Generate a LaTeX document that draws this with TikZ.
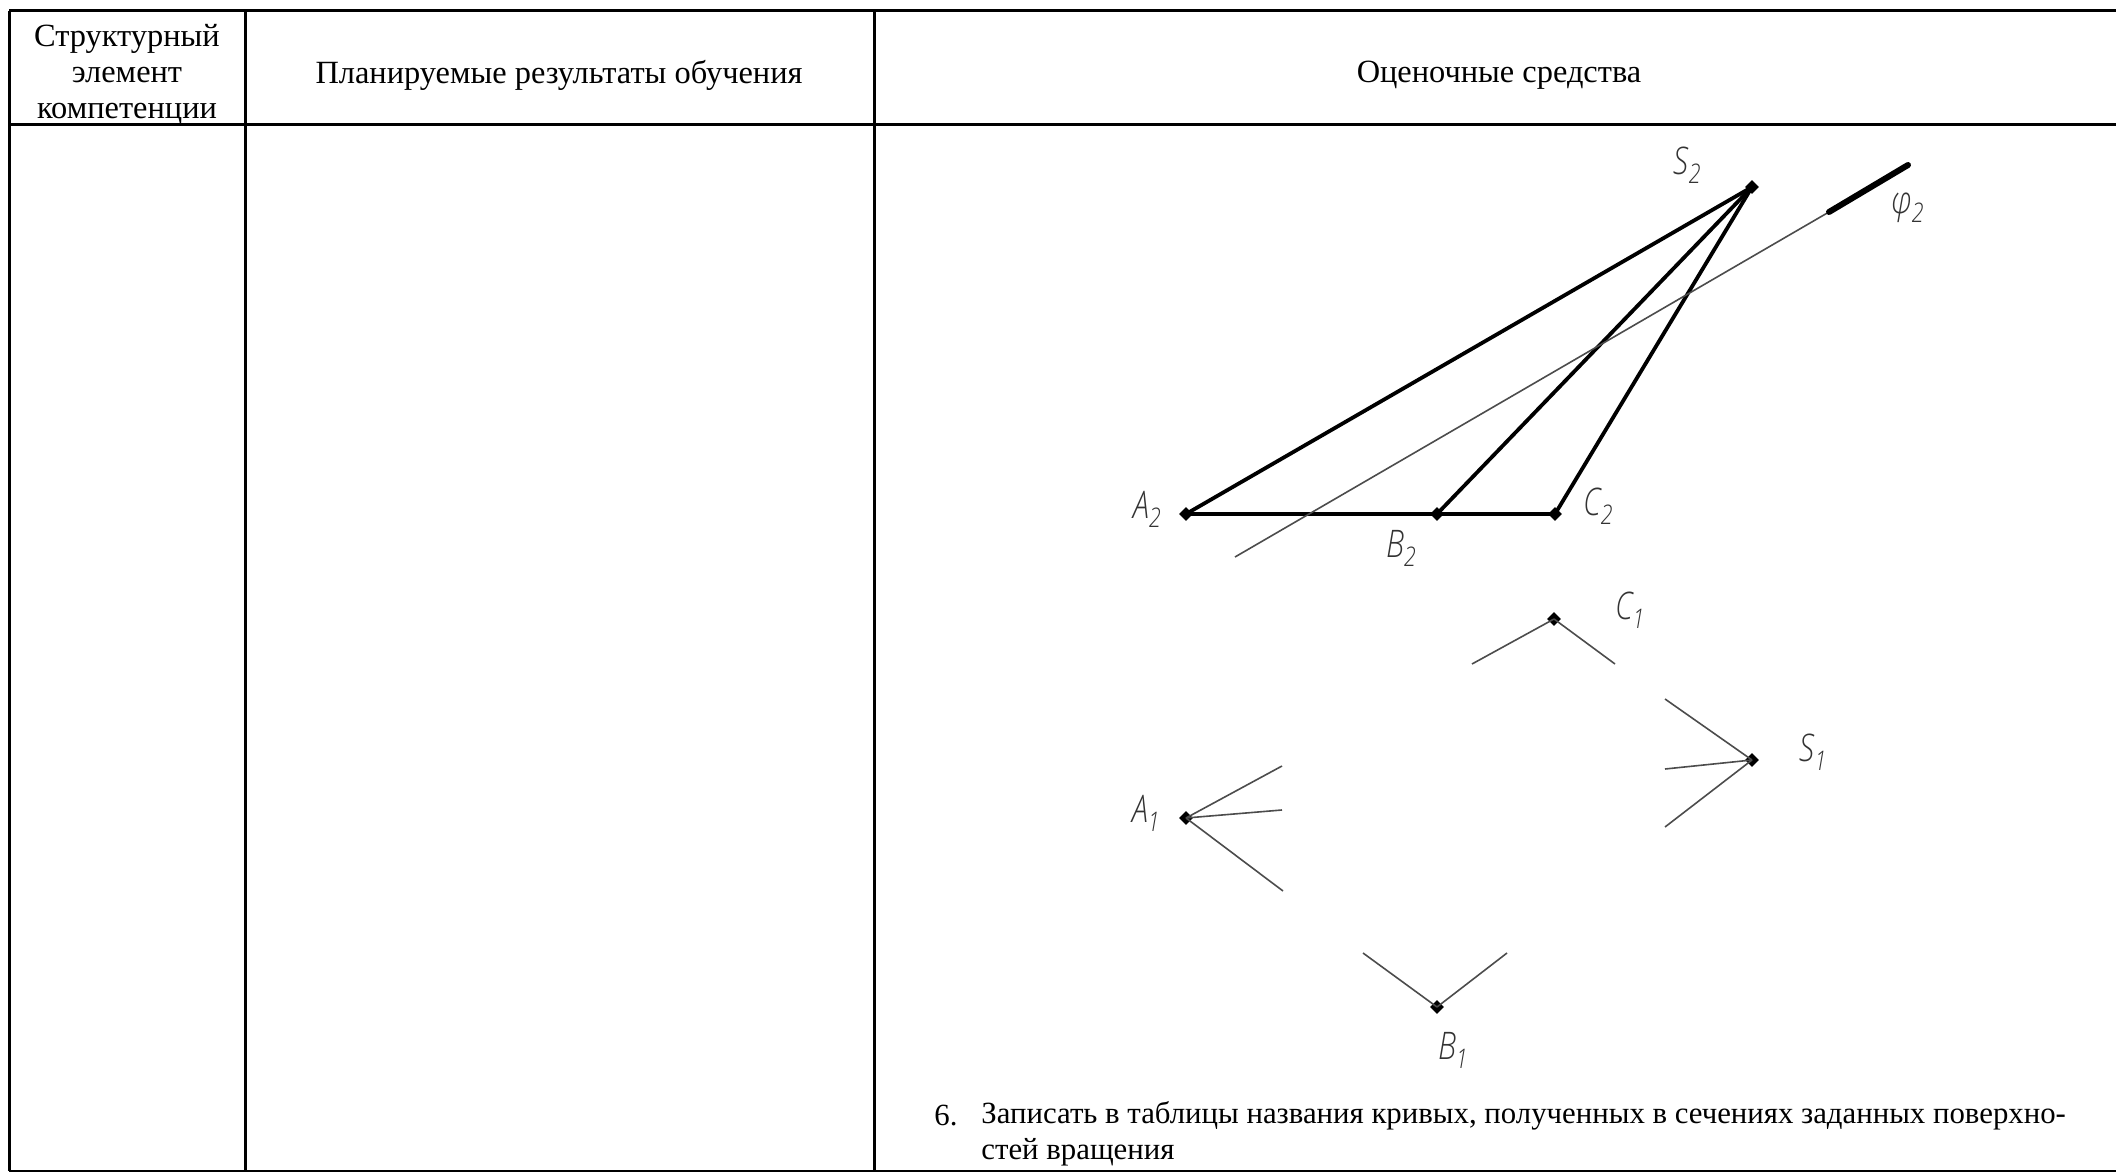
\documentclass[tikz,border=0pt]{standalone}
\usepackage{fontspec}
\setmainfont{Liberation Serif}
\newfontfamily\sketchfont{Open Sans Light}[ItalicFont={Open Sans Light Italic}]
\usetikzlibrary{positioning}
\usetikzlibrary{shapes.geometric}

\newcommand{\marklabel}[2]{\scalebox{.8}[1]{#1\raisebox{-.45ex}{\fontsize{13.5}{13.5}\selectfont #2}}}

\tikzset{
  rule/.style={line width=1.5pt, black},
  thick line/.style={line width=1.9pt, black},
  thin line/.style={line width=.8pt, black!70},
  dot/.style={diamond, fill=black, inner sep=0pt, minimum size=7pt},
  head/.style={font=\fontsize{16.2}{18}\selectfont, align=center},
  body/.style={font=\fontsize{15.4}{18}\selectfont, anchor=west, inner sep=0pt},
  mark label/.style={font=\sketchfont\itshape\fontsize{19}{19}\selectfont, text=black!80, inner sep=0pt}
}

\begin{document}
\begin{tikzpicture}[x=.5pt,y=-.5pt]
\useasboundingbox (0,0) rectangle (2116,1172);

\coordinate (TL) at (9,11);
\coordinate (TR) at (2116,11);
\coordinate (ML) at (9,125);
\coordinate (MR) at (2116,125);
\coordinate (BL) at (9,1171);
\coordinate (BR) at (2116,1171);
\coordinate (T1) at (245,11);
\coordinate (B1) at (245,1171);
\coordinate (T2) at (874,11);
\coordinate (B2) at (874,1171);

%
\draw [rule] (TL) -- (TR);
\draw [rule] (ML) -- (MR);
\draw [rule] (BL) -- (BR);
\draw [rule] (TL) -- (BL);
\draw [rule] (T1) -- (B1);
\draw [rule] (T2) -- (B2);

\node (H1) [head] at (127,75) {Структурный\\элемент\\компетенции};
\node (H2) [head] at (559,75) {Планируемые результаты обучения};
\node (H3) [head] at (1499,75) {Оценочные средства};

%
\node (S2) [dot] at (1752,187) {};
\node (A2) [dot] at (1186,514) {};
\node (Bb2) [dot] at (1437,514) {};
\node (C2) [dot] at (1555,514) {};
\coordinate (P0) at (1235,557);
\coordinate (P1) at (1829,212);
\coordinate (P2) at (1908,165);

\draw [thick line] (A2.center) -- (C2.center);
\draw [thick line] (S2.center) -- (A2.center);
\draw [thick line] (S2.center) -- (Bb2.center);
\draw [thick line] (S2.center) -- (C2.center);
\draw [thin line] (P0) -- (P1);
\draw [line width=3pt, line cap=round] (P1) -- (P2);

%
\node (A1) [dot] at (1186,818) {};
\node (Bb1) [dot] at (1437,1007) {};
\node (C1) [dot] at (1554,619) {};
\node (S1) [dot] at (1752,760) {};

\coordinate (A1a) at (1282,766);
\coordinate (A1b) at (1282,810);
\coordinate (A1c) at (1283,891);
\coordinate (B1a) at (1363,953);
\coordinate (B1b) at (1507,953);
\coordinate (C1a) at (1472,664);
\coordinate (C1b) at (1615,664);
\coordinate (S1a) at (1665,699);
\coordinate (S1b) at (1665,769);
\coordinate (S1c) at (1665,827);

\draw [thin line] (A1.center) -- (A1a);
\draw [thin line] (A1.center) -- (A1b);
\draw [thin line] (A1.center) -- (A1c);
\draw [thin line] (Bb1.center) -- (B1a);
\draw [thin line] (Bb1.center) -- (B1b);
\draw [thin line] (C1.center) -- (C1a);
\draw [thin line] (C1.center) -- (C1b);
\draw [thin line] (S1.center) -- (S1a);
\draw [thin line] (S1.center) -- (S1b);
\draw [thin line] (S1.center) -- (S1c);

%
\node (LS2) [mark label] at (1687,165) {\marklabel{S}{2}};
\node (LPhi) [mark label] at (1908,208) {\marklabel{φ}{2}};
\node (LA2) [mark label] at (1147,509) {\marklabel{A}{2}};
\node (LB2) [mark label] at (1401,548) {\marklabel{B}{2}};
\node (LC2) [mark label] at (1598,506) {\marklabel{C}{2}};
\node (LC1) [mark label] at (1630,610) {\marklabel{C}{1}};
\node (LS1) [mark label] at (1813,752) {\marklabel{S}{1}};
\node (LA1) [mark label] at (1146,813) {\marklabel{A}{1}};
\node (LB1) [mark label] at (1453,1050) {\marklabel{B}{1}};

%
\node (N6) [body] at (934,1116) {6.};
\node (T6a) [body] at (981,1116) {Записать в таблицы названия кривых, полученных в сечениях заданных поверхно-};
\node (T6b) [body] at (981,1152) {стей вращения};
\end{tikzpicture}
\end{document}
